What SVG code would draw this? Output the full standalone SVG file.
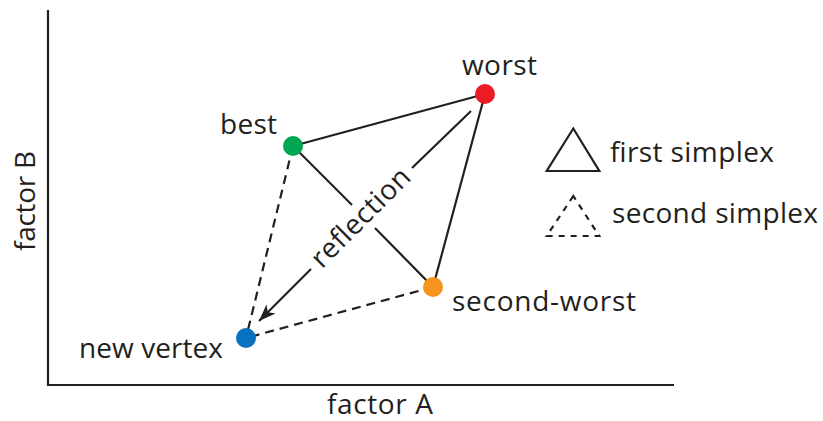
<svg xmlns="http://www.w3.org/2000/svg" width="823" height="421" viewBox="0 0 823 421">
  <style>
    text { font-family: "Open Sans", "Noto Sans", "Liberation Sans", sans-serif; font-size: 28px; fill: #231f20; }
    .ln { stroke: #231f20; stroke-width: 2.2; fill: none; }
    .dash { stroke-dasharray: 9 6; }
    .ldash { stroke-dasharray: 6 6; }
  </style>
  <defs>
    <marker id="arrow" markerUnits="userSpaceOnUse" markerWidth="20" markerHeight="16" refX="0" refY="0" viewBox="-18 -8 20 16" orient="auto">
      <path d="M0,0 L-17,-6.5 L-12.5,0 L-17,6.5 Z" fill="#231f20"/>
    </marker>
  </defs>
  <rect width="823" height="421" fill="#ffffff"/>

  <g id="axes">
    <polyline class="ln" points="48,10 48,385 674,385"/>
    <text x="327" y="414" textLength="106">factor A</text>
    <text transform="translate(35,201) rotate(-90)" text-anchor="middle" textLength="100">factor B</text>
  </g>

  <g id="connectors">
    <line class="ln" x1="485" y1="94" x2="293" y2="146"/>
    <line class="ln" x1="485" y1="94" x2="433" y2="287"/>
    <line class="ln" x1="293" y1="146" x2="352" y2="205"/>
    <line class="ln" x1="375" y1="228" x2="433" y2="287"/>
    <line class="ln dash" x1="293" y1="146" x2="246" y2="338"/>
    <line class="ln dash" x1="433" y1="287" x2="246" y2="338"/>
    <line class="ln" x1="471" y1="111" x2="412" y2="168"/>
    <line class="ln" x1="311" y1="269" x2="259" y2="321" marker-end="url(#arrow)"/>
    <text transform="translate(361.5,218.5) rotate(-45)" text-anchor="middle" y="8" textLength="128">reflection</text>
  </g>

  <g id="worst">
    <circle cx="485" cy="94" r="10" fill="#ed1c24"/>
    <text x="462" y="75" textLength="75">worst</text>
  </g>
  <g id="best">
    <circle cx="293" cy="146" r="10" fill="#00a651"/>
    <text x="220" y="134" textLength="57">best</text>
  </g>
  <g id="second-worst">
    <circle cx="433" cy="287" r="10" fill="#f7941d"/>
    <text x="452" y="311" textLength="184">second-worst</text>
  </g>
  <g id="new-vertex">
    <circle cx="246" cy="338" r="10" fill="#0872c0"/>
    <text x="79" y="358" textLength="144">new vertex</text>
  </g>

  <g id="legend">
    <polygon class="ln" points="573.3,128.5 546.7,171 599.3,171"/>
    <text x="610" y="162" textLength="164">first simplex</text>
    <polygon class="ln ldash" points="573.3,196 546.7,236 599.3,236"/>
    <text x="612" y="223" textLength="206">second simplex</text>
  </g>
</svg>
